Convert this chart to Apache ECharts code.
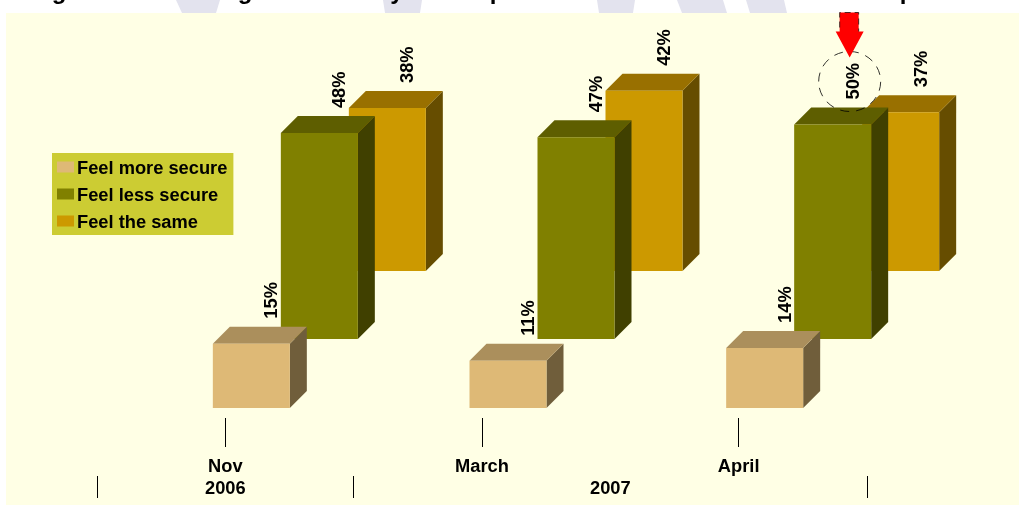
<!DOCTYPE html>
<html>
<head>
<meta charset="utf-8">
<style>html,body{margin:0;padding:0;background:#fff}#c{width:1019px;height:506px}</style>
<script src="https://cdn.jsdelivr.net/npm/echarts@6/dist/echarts.min.js"></script>
</head>
<body>
<div id="c"></div>
<script>
var months = ['Nov', 'March', 'April'];
var years = ['2006', '2007'];
var seriesNames = ['Feel more secure', 'Feel less secure', 'Feel the same'];
var moreSecure = [15, 11, 14];
var lessSecure = [48, 47, 50];
var theSame = [38, 42, 37];
var highlightMonth = 'April';

var FAMILY = '"Liberation Sans", Arial, sans-serif';
var FONT = 'bold 18.3px ' + FAMILY;
var DEPTH = 17;
var PX_PER_UNIT = 4.29;
var Y_MAX = 60;

// front, top and side shades of each box
var shades = {
  tan:   {front: '#DEB976', top: '#AB8F5C', side: '#705E3B'},
  olive: {front: '#808000', top: '#5E5E00', side: '#404000'},
  gold:  {front: '#CC9900', top: '#997000', side: '#664D00'}
};

function boxRenderer(shade, withHighlight) {
  return function (params, api) {
    var cat = api.value(0), val = api.value(1);
    var topPt = api.coord([cat, val]);
    var basePt = api.coord([cat, 0]);
    var w = api.size([1, 0])[0] * 0.3;
    var x0 = topPt[0] - w / 2, x1 = topPt[0] + w / 2;
    var yT = topPt[1], yB = basePt[1], d = DEPTH;
    var children = [
      {type: 'polygon', shape: {points: [[x1, yT], [x1 + d, yT - d], [x1 + d, yB - d], [x1, yB]]}, style: {fill: shade.side}},
      {type: 'polygon', shape: {points: [[x0, yT], [x0 + d, yT - d], [x1 + d, yT - d], [x1, yT]]}, style: {fill: shade.top}},
      {type: 'rect', shape: {x: x0, y: yT, width: w, height: yB - yT}, style: {fill: shade.front}},
      {type: 'text', x: topPt[0] + 21, y: yT - d - 8, rotation: Math.PI / 2,
        style: {text: val + '%', font: FONT, fill: '#000', align: 'left', verticalAlign: 'middle'}}
    ];
    if (withHighlight && months[cat] === highlightMonth) {
      var cx = topPt[0] + 17;
      var tipY = yT - 67;
      children.push({type: 'ellipse', shape: {cx: cx, cy: yT - 43, rx: 31, ry: 30},
        style: {fill: 'none', stroke: '#000', lineWidth: 0.8, lineDash: [9, 7]}});
      children.push({type: 'polygon', shape: {points: [
        [cx - 10, tipY - 45], [cx + 9, tipY - 45], [cx + 9, tipY - 26], [cx + 14, tipY - 26],
        [cx, tipY], [cx - 14, tipY - 26], [cx - 10, tipY - 26]]},
        style: {fill: '#FF0000'}});
      children.push({type: 'polyline', shape: {points: [
        [cx - 10, tipY - 30], [cx - 10, tipY - 45], [cx + 9, tipY - 45], [cx + 9, tipY - 26]]},
        style: {fill: 'none', stroke: '#000', lineWidth: 0.7, lineDash: [6, 4]}});
    }
    return {type: 'group', children: children};
  };
}

function hiddenCat(i) {
  return {type: 'category', gridIndex: i, data: months, show: false};
}
function hiddenVal(i) {
  return {type: 'value', gridIndex: i, min: 0, max: Y_MAX, show: false};
}
function gridAt(left, baseline) {
  return {left: left, width: 770, top: baseline - Y_MAX * PX_PER_UNIT, height: Y_MAX * PX_PER_UNIT, outerBoundsMode: 'none'};
}
function pairs(arr) { return arr.map(function (v, i) { return [i, v]; }); }
function boxSeries(name, values, idx, shade, hl) {
  return {
    type: 'custom', name: name, xAxisIndex: idx, yAxisIndex: idx,
    data: pairs(values), encode: {x: 0, y: 1},
    itemStyle: {color: shade.front},
    renderItem: boxRenderer(shade, hl)
  };
}
function titleGlyph(ch, x) {
  return {type: 'text', x: x, y: 4,
    style: {text: ch, font: 'bold 24px ' + FAMILY, fill: '#000', align: 'center', verticalAlign: 'bottom'}};
}
function band(a, b, c, d) {
  return {type: 'polygon', shape: {points: [[a, 0], [b, 0], [c, 13], [d, 13]]}, style: {fill: '#E3E3EE'}};
}

var chart = echarts.init(document.getElementById('c'), null, {renderer: 'canvas', width: 1019, height: 506});
chart.setOption({
  animation: false,
  backgroundColor: '#FFFFFF',
  graphic: {
    elements: [
      band(176, 220, 216, 182), band(383, 422, 420, 385), band(597, 635, 633, 599), band(677, 723, 727, 682), band(746, 784, 787, 750),
      titleGlyph('g', 59), titleGlyph('g', 245), titleGlyph('y', 397), titleGlyph('p', 497), titleGlyph('p', 907),
      {type: 'rect', shape: {x: 6, y: 13, width: 1013, height: 492}, style: {fill: '#FFFFE5'}}
    ]
  },
  legend: {
    left: 52, top: 153, orient: 'vertical', selectedMode: false,
    data: seriesNames.map(function (n) { return {name: n, icon: 'rect'}; }),
    backgroundColor: '#CCCC33', padding: [7, 6, 3, 5], itemGap: 9, itemWidth: 17, itemHeight: 11, borderRadius: 0,
    formatter: '{t|{name}}',
    textStyle: {color: '#000', fontFamily: FAMILY, fontWeight: 'bold', fontSize: 18.3,
      rich: {t: {color: '#000', fontFamily: FAMILY, fontWeight: 'bold', fontSize: 18.3, padding: [4, 0, 0, -2]}}}
  },
  grid: [gridAt(97, 418), gridAt(123, 408), gridAt(191, 339), gridAt(259, 271)],
  xAxis: [
    {type: 'category', gridIndex: 0, data: months, position: 'bottom',
      axisLine: {show: false},
      axisTick: {show: true, alignWithLabel: true, length: 29, lineStyle: {color: '#000', width: 1}},
      axisLabel: {margin: 40, color: '#000', fontFamily: FAMILY, fontWeight: 'bold', fontSize: 18.3}
    },
    hiddenCat(1), hiddenCat(2), hiddenCat(3),
    {type: 'value', gridIndex: 0, min: 0, max: 3, position: 'bottom', offset: 58,
      axisLine: {show: false}, splitLine: {show: false},
      axisTick: {show: true, length: 22, customValues: [0, 1, 3], lineStyle: {color: '#000', width: 1}},
      axisLabel: {margin: 4, color: '#000', fontFamily: FAMILY, fontWeight: 'bold', fontSize: 18.3,
        customValues: [0.5, 2], formatter: function (v) { return v < 1 ? years[0] : years[1]; }}
    }
  ],
  yAxis: [hiddenVal(0), hiddenVal(1), hiddenVal(2), hiddenVal(3)],
  series: [
    boxSeries(seriesNames[2], theSame, 3, shades.gold, false),
    boxSeries(seriesNames[1], lessSecure, 2, shades.olive, true),
    boxSeries(seriesNames[0], moreSecure, 1, shades.tan, false)
  ]
});
</script>
</body>
</html>
